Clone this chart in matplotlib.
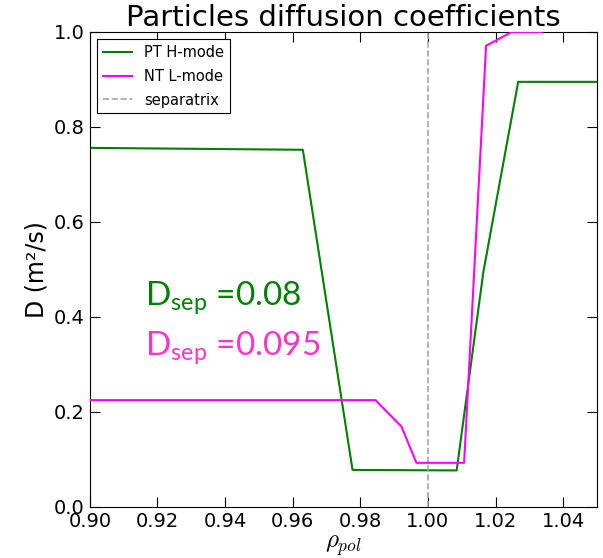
import matplotlib
matplotlib.use('Agg')
import matplotlib.pyplot as plt

# rho_pol grid and diffusion coefficients
rho_h = [0.90, 0.963, 0.9777, 1.0085, 1.0164, 1.0267, 1.05]
D_h = [0.756, 0.752, 0.078, 0.077, 0.495, 0.895, 0.895]

rho_l = [0.90, 0.9845, 0.9922, 0.9966, 1.0107, 1.0172, 1.0248, 1.0336]
D_l = [0.225, 0.225, 0.169, 0.093, 0.093, 0.971, 1.0, 1.0]

xticks = [0.90, 0.92, 0.94, 0.96, 0.98, 1.00, 1.02, 1.04]
yticks = [0.0, 0.2, 0.4, 0.6, 0.8, 1.0]

plt.rcParams['mathtext.fontset'] = 'cm'
plt.rcParams['xtick.direction'] = 'in'
plt.rcParams['ytick.direction'] = 'in'
plt.rcParams['xtick.top'] = True
plt.rcParams['ytick.right'] = True
plt.rcParams['xtick.major.size'] = 7
plt.rcParams['ytick.major.size'] = 7

fig = plt.figure(figsize=(6.03, 5.58), dpi=100)
ax = fig.add_axes([0.149, 0.0914, 0.841, 0.8513])

ax.plot(rho_h, D_h, color='green', lw=1.5, label='PT H-mode')
ax.plot(rho_l, D_l, color='#ff00ff', lw=1.5, label='NT L-mode', zorder=3)
ax.axvline(1.0, color='0.65', ls='--', lw=1.2, label='separatrix')

ax.set_xlim(0.90, 1.05)
ax.set_ylim(0.0, 1.0)
ax.set_xticks(xticks)
ax.set_yticks(yticks)
ax.set_xticklabels(['%.2f' % t for t in xticks], fontsize=14)
ax.set_yticklabels(['%.1f' % t for t in yticks], fontsize=14)

ax.set_title('Particles diffusion coefficients', fontsize=21, pad=4)
ax.set_ylabel('D (m²/s)', fontsize=17)
ax.set_xlabel(r'$\rho_{pol}$', fontsize=18, labelpad=2)

plt.rcParams['mathtext.rm'] = 'Lato'
ax.text(0.9163, 0.425, r'D$_\mathrm{sep}$ =0.08', color='green', fontsize=24,
        family='Lato', math_fontfamily='custom')
ax.text(0.9163, 0.32, r'D$_\mathrm{sep}$ =0.095', color='#ff33cc', fontsize=24,
        family='Lato', math_fontfamily='custom')

leg = ax.legend(loc='upper left', fontsize=10.5, fancybox=False, framealpha=1,
                edgecolor='black', handlelength=2.0, labelspacing=0.6)
leg.get_frame().set_linewidth(0.8)

fig.savefig('out.png', dpi=100)
